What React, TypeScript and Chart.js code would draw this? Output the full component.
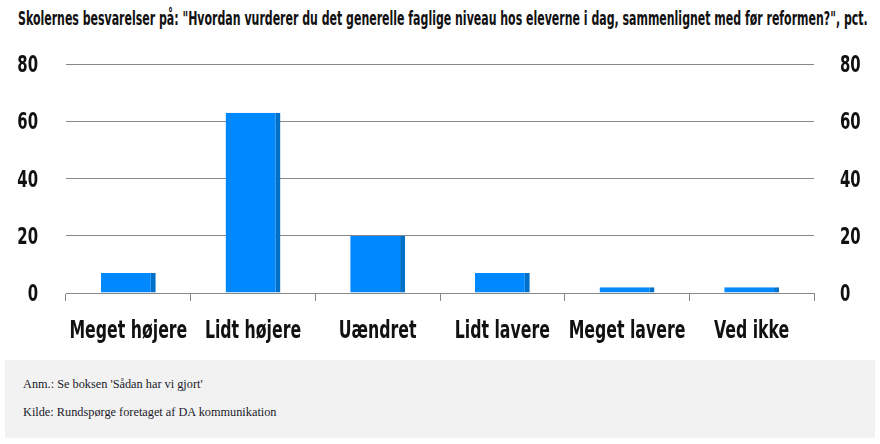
import { useEffect, useLayoutEffect, useRef } from "react";
import { Chart, registerables } from "chart.js";

Chart.register(...registerables);

const title =
  'Skolernes besvarelser på: "Hvordan vurderer du det generelle faglige niveau hos eleverne i dag, sammenlignet med før reformen?", pct.';
const categories = ["Meget højere", "Lidt højere", "Uændret", "Lidt lavere", "Meget lavere", "Ved ikke"];
const values = [7, 63, 20, 7, 2, 2];
const yMin = 0;
const yMax = 80;
const yStep = 20;
const note = "Anm.: Se boksen 'Sådan har vi gjort'";
const source = "Kilde: Rundspørge foretaget af DA kommunikation";

const FONT = '"DejaVu Sans Condensed", "DejaVu Sans", sans-serif';
const SERIF = '"Liberation Serif", "DejaVu Serif", serif';

function drawScaled(ctx: CanvasRenderingContext2D, text: string, x: number, y: number, align: CanvasTextAlign, sx: number) {
  ctx.save();
  ctx.translate(x, y);
  ctx.scale(sx, 1);
  ctx.textAlign = align;
  ctx.textBaseline = "alphabetic";
  ctx.fillText(text, 0, 0);
  ctx.restore();
}

const condensedLabels = {
  id: "condensedLabels",
  afterDraw(chart: any) {
    const ctx: CanvasRenderingContext2D = chart.ctx;
    const xs = chart.scales.x;
    const ys = chart.scales.y;
    const ys2 = chart.scales.y2;
    ctx.save();
    ctx.fillStyle = "#111111";
    ctx.font = `bold 25px ${FONT}`;
    xs.ticks.forEach((t: any, i: number) => {
      const px = xs.getPixelForTick(i);
      drawScaled(ctx, String(xs.getLabelForValue(t.value)), px, xs.bottom - 17, "center", 0.7);
    });
    ctx.font = `bold 23px ${FONT}`;
    ys.ticks.forEach((t: any) => {
      const py = ys.getPixelForValue(t.value);
      drawScaled(ctx, String(t.value), ys.right - 28, py + 8, "right", 0.72);
    });
    ys2.ticks.forEach((t: any) => {
      const py = ys2.getPixelForValue(t.value);
      drawScaled(ctx, String(t.value), ys2.left + 26, py + 8, "left", 0.72);
    });
    ctx.restore();
  },
};

export default function App() {
  const ref = useRef<HTMLCanvasElement | null>(null);
  const titleRef = useRef<HTMLSpanElement | null>(null);

  useLayoutEffect(() => {
    document.body.style.margin = "0";
    const el = titleRef.current;
    if (el && el.offsetWidth > 0) {
      el.style.transform = `scaleX(${850 / el.offsetWidth})`;
    }
  }, []);

  useEffect(() => {
    if (!ref.current) return;
    const chart = new Chart(ref.current, {
      type: "bar",
      data: {
        labels: categories,
        datasets: [
          {
            data: values,
            backgroundColor: "#0088ff",
            borderColor: "#0070c8",
            borderWidth: { top: 0, right: 5, bottom: 0, left: 0 },
            borderSkipped: false,
            categoryPercentage: 1,
            barPercentage: 0.44,
            yAxisID: "y",
          },
        ],
      },
      options: {
        animation: false,
        responsive: false,
        maintainAspectRatio: false,
        layout: { padding: { top: 24, left: 0, right: 0, bottom: 0 } },
        plugins: { legend: { display: false }, tooltip: { enabled: false }, title: { display: false } },
        scales: {
          x: {
            grid: { display: true, drawOnChartArea: false, drawTicks: true, tickLength: 8, color: "#888888", offset: true },
            border: { display: true, color: "#888888" },
            ticks: { display: false, autoSkip: false },
            afterFit: (s: any) => {
              s.height = 62;
            },
          },
          y: {
            position: "left",
            min: yMin,
            max: yMax,
            ticks: { stepSize: yStep, display: false },
            grid: { color: "#888888", drawTicks: false },
            border: { display: false },
            afterFit: (s: any) => {
              s.width = 66;
            },
          },
          y2: {
            position: "right",
            min: yMin,
            max: yMax,
            ticks: { stepSize: yStep, display: false },
            grid: { display: false },
            border: { display: false },
            afterFit: (s: any) => {
              s.width = 66;
            },
          },
        },
      },
      plugins: [condensedLabels],
    });
    return () => chart.destroy();
  }, []);

  return (
    <div style={{ position: "relative", width: 880, height: 444, background: "#ffffff", overflow: "hidden" }}>
      <div
        style={{
          position: "absolute",
          left: 18,
          top: 9,
          fontFamily: FONT,
          fontWeight: "bold",
          fontSize: 19,
          lineHeight: "19px",
          color: "#111111",
          whiteSpace: "nowrap",
        }}
      >
        <span ref={titleRef} style={{ display: "inline-block", transformOrigin: "0 0" }}>
          {title}
        </span>
      </div>
      <canvas ref={ref} width={880} height={315} style={{ position: "absolute", left: 0, top: 40, width: 880, height: 315 }} />
      <div
        style={{
          position: "absolute",
          left: 5,
          top: 360,
          width: 870,
          height: 78,
          background: "#f2f2f2",
        }}
      >
        <div style={{ position: "absolute", left: 18, top: 16, fontFamily: SERIF, fontSize: 12.3, lineHeight: "16px", color: "#1a1a2a", whiteSpace: "nowrap" }}>
          {note}
        </div>
        <div style={{ position: "absolute", left: 18, top: 44, fontFamily: SERIF, fontSize: 12.3, lineHeight: "16px", color: "#1a1a2a", whiteSpace: "nowrap" }}>
          {source}
        </div>
      </div>
    </div>
  );
}
